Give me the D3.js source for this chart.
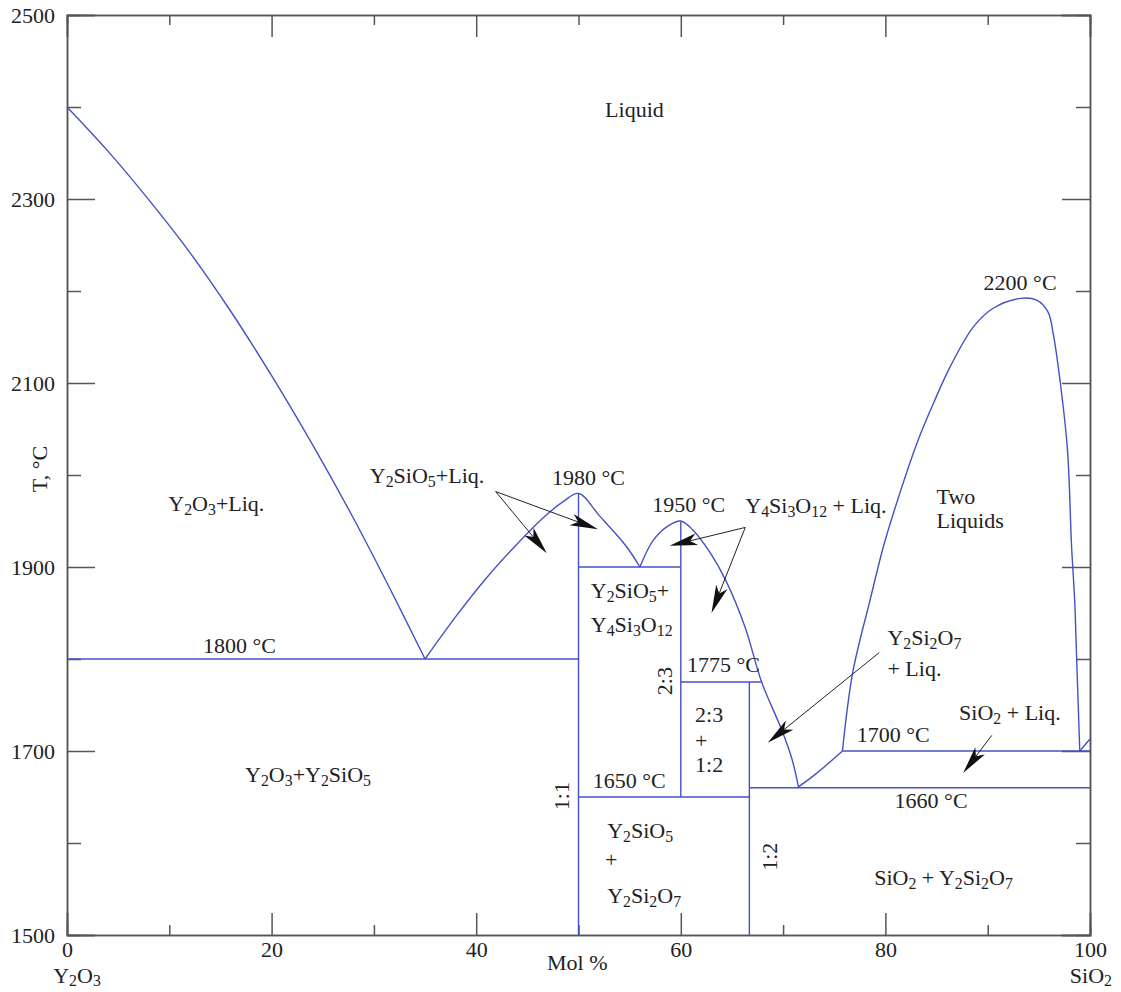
<!DOCTYPE html>
<html>
<head>
<meta charset="utf-8">
<script src="https://cdn.jsdelivr.net/npm/d3@7"></script>
<style>
  body { margin: 0; background: #fff; overflow: hidden; }
  svg text { font-family: "Liberation Serif", "DejaVu Serif", serif; fill: #222; }
</style>
</head>
<body>
<div id="chart"></div>
<script>
// Y2O3 - SiO2 phase diagram

const xTicksMajor = [0, 20, 40, 60, 80, 100];
const xTicksMinor = [10, 30, 50, 70, 90];
const yTicksMajor = [1500, 1700, 1900, 2100, 2300, 2500];
const yTicksMinor = [1600, 1800, 2000, 2200, 2400];

// liquidus / boundary curves: [mol % SiO2, T °C]
const liqY2O3 = [[0, 2400], [4, 2352], [8, 2299], [12, 2242], [16, 2178], [20, 2108],
  [24, 2033], [28, 1953], [31.5, 1878], [35, 1800]];
const liqY2SiO5 = [[35, 1800], [38, 1846], [41, 1888], [44, 1925], [46.5, 1953],
  [48.5, 1971], [50, 1980], [52.1, 1955], [54.7, 1922], [56, 1900]];
const liqY4Si3O12 = [[56, 1900], [57.3, 1929], [58.8, 1945], [60, 1950], [61.2, 1940],
  [62.9, 1915], [64.5, 1883], [66.3, 1834], [67.9, 1775], [69.9, 1722], [70.9, 1690],
  [71.5, 1661]];
const liqY2Si2O7 = [[71.5, 1661], [73.3, 1676], [75.8, 1700]];
const twoLiquids = [[75.8, 1700], [76.8, 1785], [78.5, 1864], [79.8, 1922], [80.8, 1959],
  [83.1, 2035], [84.7, 2078], [86.3, 2117], [88.6, 2161], [90.5, 2181], [93.2, 2192],
  [94.8, 2190], [95.9, 2177], [96.4, 2154], [97.1, 2100], [97.8, 2027], [98.2, 1922],
  [98.5, 1864], [98.7, 1799], [99, 1700]];
const liqSiO2 = [[99, 1700], [100, 1713]];

// isotherms [T, from, to] and compound lines [x, T from, T to]
const isotherms = [[1800, 0, 50], [1900, 50, 60], [1775, 60, 67.9], [1700, 75.8, 100],
  [1660, 66.7, 100], [1650, 50, 66.7]];
const compounds = [[50, 1500, 1980], [60, 1650, 1950], [66.7, 1500, 1775]];

// arrows [from x, from T, to x, to T]
const arrows = [[41.9, 1982, 46.9, 1915], [41.9, 1982, 51.9, 1941],
  [66.3, 1943, 58.9, 1923], [66.3, 1943, 63.0, 1850],
  [79.4, 1807, 68.5, 1709], [90.4, 1717, 87.6, 1676]];

// labels: text (_n = subscript), x, T, anchor, rotate
const labels = [
  ["Liquid", 52.6, 2389, "start"],
  ["Y_2O_3+Liq.", 9.9, 1961, "start"],
  ["1800 °C", 13.3, 1807, "start"],
  ["Y_2O_3+Y_2SiO_5", 17.4, 1666, "start"],
  ["Y_2SiO_5+Liq.", 29.6, 1991, "start"],
  ["1980 °C", 47.4, 1989, "start"],
  ["1950 °C", 57.2, 1960, "start"],
  ["Y_4Si_3O_1_2 + Liq.", 66.3, 1959, "start"],
  ["Y_2SiO_5+", 51.2, 1866, "start"],
  ["Y_4Si_3O_1_2", 51.2, 1829, "start"],
  ["1775 °C", 60.6, 1786, "start"],
  ["2:3", 59.1, 1776, "middle", -90],
  ["2:3", 61.4, 1731, "start"],
  ["+", 61.4, 1703, "start"],
  ["1:2", 61.4, 1677, "start"],
  ["Y_2Si_2O_7", 80.2, 1815, "start"],
  ["+ Liq.", 80.2, 1781, "start"],
  ["SiO_2 + Liq.", 87.2, 1734, "start"],
  ["1700 °C", 77.2, 1710, "start"],
  ["1660 °C", 80.9, 1638, "start"],
  ["1650 °C", 51.4, 1660, "start"],
  ["1:1", 49.1, 1651, "middle", -90],
  ["Y_2SiO_5", 52.8, 1605, "start"],
  ["+", 52.6, 1574, "start"],
  ["Y_2Si_2O_7", 52.8, 1535, "start"],
  ["1:2", 69.4, 1585, "middle", -90],
  ["SiO_2 + Y_2Si_2O_7", 78.9, 1554, "start"],
  ["Two", 85.0, 1969, "start"],
  ["Liquids", 85.0, 1942, "start"],
  ["2200 °C", 89.6, 2201, "start"]
];

const width = 1121, height = 992;
const blue = "#4452c4";
const serif = "Liberation Serif, DejaVu Serif, serif";

const x = d3.scaleLinear().domain([0, 100]).range([67, 1090]);
const y = d3.scaleLinear().domain([1500, 2500]).range([935, 15]);

const svg = d3.select("#chart").append("svg")
  .attr("width", width)
  .attr("height", height);

function styleAxis(g) {
  g.selectAll("path").attr("stroke", "#555").attr("stroke-width", 1.5);
  g.selectAll("line").attr("stroke", "#555").attr("stroke-width", 1.5);
  g.selectAll("text").attr("font-size", 22).attr("fill", "#222")
    .attr("font-family", serif);
}

// axes, ticks pointing inward
svg.append("g").attr("transform", `translate(0,${y(1500)})`)
  .call(d3.axisBottom(x).tickValues(xTicksMajor).tickSize(-22).tickPadding(6).tickFormat(d3.format("d")))
  .call(styleAxis);
svg.append("g").attr("transform", `translate(0,${y(1500)})`)
  .call(d3.axisBottom(x).tickValues(xTicksMinor).tickSize(-10).tickFormat(""))
  .call(styleAxis);
svg.append("g").attr("transform", `translate(0,${y(2500)})`)
  .call(d3.axisTop(x).tickValues(xTicksMajor).tickSize(-22).tickFormat(""))
  .call(styleAxis);
svg.append("g").attr("transform", `translate(0,${y(2500)})`)
  .call(d3.axisTop(x).tickValues(xTicksMinor).tickSize(-10).tickFormat(""))
  .call(styleAxis);
svg.append("g").attr("transform", `translate(${x(0)},0)`)
  .call(d3.axisLeft(y).tickValues(yTicksMajor).tickSize(-28).tickPadding(12).tickFormat(d3.format("d")))
  .call(styleAxis);
svg.append("g").attr("transform", `translate(${x(0)},0)`)
  .call(d3.axisLeft(y).tickValues(yTicksMinor).tickSize(-14).tickFormat(""))
  .call(styleAxis);
svg.append("g").attr("transform", `translate(${x(100)},0)`)
  .call(d3.axisRight(y).tickValues(yTicksMajor).tickSize(-28).tickFormat(""))
  .call(styleAxis);
svg.append("g").attr("transform", `translate(${x(100)},0)`)
  .call(d3.axisRight(y).tickValues(yTicksMinor).tickSize(-14).tickFormat(""))
  .call(styleAxis);

// helper: write text with _n subscripts
function richText(sel, str, shift = 4) {
  sel.attr("font-family", serif);
  const parts = str.split(/(_\d)/);
  let sub = false;
  parts.forEach(p => {
    if (!p) return;
    if (p[0] === "_") {
      sel.append("tspan").attr("font-size", "72%").attr("dy", sub ? 0 : shift).text(p[1]);
      sub = true;
    } else {
      sel.append("tspan").attr("dy", sub ? -shift : 0).text(p);
      sub = false;
    }
  });
}

// axis titles
svg.append("text").attr("x", 547).attr("y", 970).attr("font-size", 22)
  .attr("font-family", serif).text("Mol %");
richText(svg.append("text").attr("x", x(0)).attr("y", 983).attr("font-size", 22)
  .attr("text-anchor", "middle").attr("dx", 10), "Y_2O_3", 3);
richText(svg.append("text").attr("x", 1112).attr("y", 983).attr("font-size", 22)
  .attr("text-anchor", "end"), "SiO_2", 3);
svg.append("text").attr("transform", "translate(47,469) rotate(-90)")
  .attr("text-anchor", "middle").attr("font-size", 22).attr("font-family", serif).text("T, °C");

// phase boundaries
const line = d3.line().x(d => x(d[0])).y(d => y(d[1])).curve(d3.curveCatmullRom.alpha(0.5));
const plot = svg.append("g").attr("fill", "none").attr("stroke", blue).attr("stroke-width", 1.4);

[liqY2O3, liqY2SiO5, liqY4Si3O12, liqY2Si2O7, twoLiquids, liqSiO2].forEach(c => {
  plot.append("path").attr("d", line(c));
});

plot.selectAll(".iso").data(isotherms).join("line")
  .attr("x1", d => x(d[1])).attr("x2", d => x(d[2]))
  .attr("y1", d => y(d[0])).attr("y2", d => y(d[0]));

plot.selectAll(".cmp").data(compounds).join("line")
  .attr("x1", d => x(d[0])).attr("x2", d => x(d[0]))
  .attr("y1", d => y(d[1])).attr("y2", d => y(d[2]));

// arrows
const ag = svg.append("g");
arrows.forEach(a => {
  const x0 = x(a[0]), y0 = y(a[1]), x1 = x(a[2]), y1 = y(a[3]);
  const ang = Math.atan2(y1 - y0, x1 - x0);
  const ux = Math.cos(ang), uy = Math.sin(ang);
  const L = 28, W = 6, N = 21;
  ag.append("line").attr("x1", x0).attr("y1", y0)
    .attr("x2", x1 - ux * N).attr("y2", y1 - uy * N)
    .attr("stroke", "#222").attr("stroke-width", 1);
  const pts = [
    [x1, y1],
    [x1 - ux * L - uy * W, y1 - uy * L + ux * W],
    [x1 - ux * N, y1 - uy * N],
    [x1 - ux * L + uy * W, y1 - uy * L - ux * W]
  ];
  ag.append("path").attr("d", "M" + pts.map(p => p.join(",")).join("L") + "Z")
    .attr("fill", "#111");
});

// region labels
const lg = svg.append("g").attr("font-size", 22);
labels.forEach(l => {
  const t = lg.append("text").attr("text-anchor", l[3]);
  if (l[4]) {
    t.attr("transform", `translate(${x(l[1])},${y(l[2])}) rotate(${l[4]})`);
  } else {
    t.attr("x", x(l[1])).attr("y", y(l[2]));
  }
  richText(t, l[0]);
});
</script>
</body>
</html>
